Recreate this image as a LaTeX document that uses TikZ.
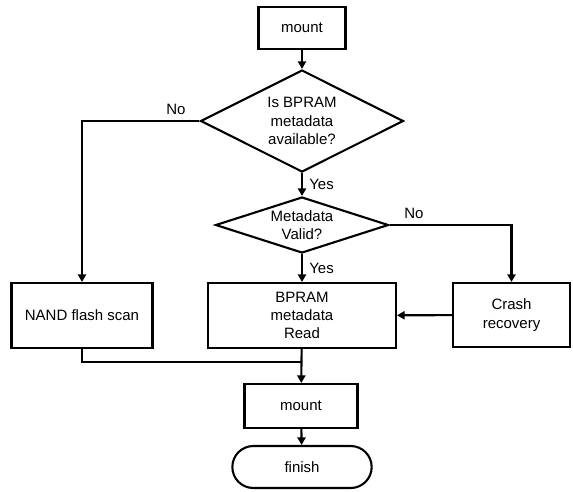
\documentclass[tikz,border=0pt]{standalone}
\usepackage{fontspec}
\setmainfont{Liberation Sans}
\usetikzlibrary{arrows.meta,calc,positioning,shapes.geometric,shapes.misc}

\begin{document}
\begin{tikzpicture}[x=0.03cm,y=-0.03cm,>={Triangle[width=7pt,length=6.5pt]},
    font=\fontsize{12.8}{15.6}\selectfont,line width=1.8pt,
    box/.style={draw,rectangle,align=center,inner sep=2pt},
    decide/.style={draw,diamond,align=center,inner sep=0pt},
    term/.style={draw,rounded rectangle,align=center,inner sep=2pt}]
        \useasboundingbox (0,0) rectangle (573,491);
        % main column
        \node[box,minimum width=2.61cm,minimum height=1.26cm] (start) at (302,28) {mount};
        \node[decide,aspect=1.99,minimum width=6.09cm,minimum height=3.06cm] (avail) at (302,121) {Is BPRAM\\metadata\\available?};
        \node[decide,aspect=3.09,minimum width=5.19cm,minimum height=1.68cm] (valid) at (302,225) {Metadata\\Valid?};
        \node[box,minimum width=5.64cm,minimum height=1.95cm] (read) at (302,315.5) {BPRAM\\metadata\\Read};
        \node[box,minimum width=3.39cm,minimum height=1.32cm] (again) at (301,406) {mount};
        \node[term,minimum width=4.32cm,minimum height=1.26cm] (finish) at (302,467) {finish};
        % side branches
        \node[box,minimum width=4.23cm,minimum height=1.95cm] (scan) at (82,315.5) {NAND flash scan};
        \node[box,minimum width=3.51cm,minimum height=1.92cm] (crash) at (511.5,315) {Crash\\recovery};
        \coordinate (merge) at (302,362);
        % connectors
        \draw[->] (start) -- (avail);
        \draw[->] (avail) -- (valid) node[midway,right=2pt] {Yes};
        \draw[->] (valid) -- (read) node[midway,right=2pt] {Yes};
        \draw[->] (avail.west) -| (scan.north) node[pos=.1,above=1pt] {No};
        \draw[->] (valid.east) -| (crash.north) node[pos=.1,above=1pt] {No};
        \draw[->] (crash) -- (read);
        \draw (scan.south) |- (merge);
        \draw[->] (read) -- (again);
        \draw[->] (again) -- (finish);
\end{tikzpicture}
\end{document}
